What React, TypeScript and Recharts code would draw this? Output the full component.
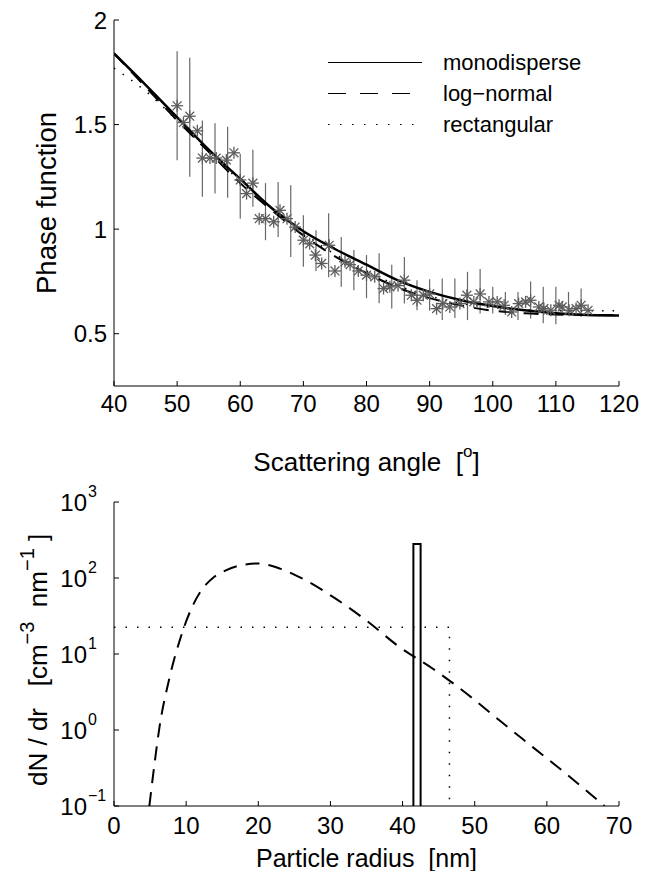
import React from "react";
import {
  ComposedChart,
  Line,
  Scatter,
  XAxis,
  YAxis,
  ErrorBar,
  Legend,
  Label,
} from "recharts";

const FONT = "'Liberation Sans', Arial, Helvetica, sans-serif";
const GREY = "#5c5c5c";

// ---- top panel: phase function vs scattering angle ----
const angleTicks = [40, 50, 60, 70, 80, 90, 100, 110, 120];
const phaseTicks = [0.5, 1, 1.5, 2];

const curveAngles = [40, 45, 50, 55, 60, 65, 70, 75, 80, 85, 90, 95, 100, 105, 110, 115, 120];
const monoPhase = [1.84, 1.69, 1.535, 1.38, 1.24, 1.1, 0.99, 0.905, 0.83, 0.755, 0.7, 0.66, 0.632, 0.612, 0.598, 0.59, 0.587];
const logNormalPhase = [1.84, 1.68, 1.52, 1.37, 1.22, 1.09, 0.97, 0.87, 0.79, 0.72, 0.67, 0.635, 0.61, 0.598, 0.592, 0.59, 0.59];
const rectPhase = [1.77, 1.66, 1.52, 1.37, 1.23, 1.1, 0.98, 0.88, 0.8, 0.73, 0.68, 0.645, 0.625, 0.615, 0.61, 0.61, 0.61];

const measAngles = [
  50, 51, 52, 53.2, 54, 55.2, 56.2, 57.8, 59, 60, 61, 62, 63, 64, 65.3, 66.3, 67.4, 68.7, 70, 71,
  71.9, 72.9, 74.1, 75, 76.6, 77.4, 78.7, 80, 81.3, 82.7, 83.7, 85, 86, 87.1, 88, 89, 90, 91.1, 92.1, 93.2,
  94.8, 95.9, 97, 98, 99.4, 100.7, 101.8, 103, 104.1, 105.2, 106, 107.3, 108.1, 109.2, 110.5, 111, 112.1, 113.2, 114, 115.1,
];
const measPhase = [
  1.59, 1.51, 1.54, 1.47, 1.34, 1.34, 1.34, 1.33, 1.365, 1.235, 1.17, 1.22, 1.05, 1.05, 1.035, 1.09, 1.05, 1.01, 0.947, 0.93,
  0.876, 0.836, 0.923, 0.8, 0.844, 0.83, 0.8, 0.78, 0.772, 0.716, 0.724, 0.73, 0.756, 0.684, 0.66, 0.684, 0.69, 0.62, 0.644, 0.628,
  0.644, 0.684, 0.652, 0.69, 0.652, 0.652, 0.636, 0.604, 0.644, 0.652, 0.66, 0.628, 0.62, 0.612, 0.636, 0.628, 0.612, 0.62, 0.636, 0.612,
];

const barAngles = [50, 52, 54, 56, 58, 60, 62, 64, 66, 68, 70, 72, 74, 76, 78, 80, 82, 84, 86, 88, 90, 92, 94, 96, 98, 100, 102, 104, 106, 108, 110, 112, 114];
const barLow = [1.33, 1.25, 1.155, 1.17, 1.15, 1.05, 1.107, 0.947, 0.963, 0.867, 0.82, 0.8, 0.77, 0.724, 0.708, 0.67, 0.646, 0.62, 0.644, 0.612, 0.61, 0.565, 0.575, 0.565, 0.597, 0.597, 0.59, 0.565, 0.573, 0.55, 0.545, 0.59, 0.58];
const barHigh = [1.85, 1.82, 1.52, 1.506, 1.49, 1.36, 1.38, 1.22, 1.226, 1.21, 1.067, 0.995, 1.076, 0.963, 0.9, 0.876, 0.885, 0.83, 0.867, 0.756, 0.76, 0.764, 0.764, 0.796, 0.81, 0.724, 0.7, 0.7, 0.75, 0.724, 0.724, 0.7, 0.716];

// ---- bottom panel: size distributions ----
const radiusTicks = [0, 10, 20, 30, 40, 50, 60, 70];
const densityTicks = [0.1, 1, 10, 100, 1000];
const densityExps = ["\u22121", "0", "1", "2", "3"];

const lnRadius = [4.9, 5.6, 6.3, 7.7, 9.1, 10.2, 11, 11.85, 12.8, 13.7, 15.5, 17.4, 19.9, 23, 25.7, 30.4, 35, 39.6, 44.2, 48.9, 53.5, 58, 63, 68];
const lnDensity = [0.1, 0.35, 1.08, 4.9, 15, 30, 45, 63, 83, 100, 126, 146, 155, 133, 103, 56, 27.5, 12.3, 6.4, 3.0, 1.32, 0.6, 0.25, 0.1];

const monoRadius = [41.5, 41.5, 42.5, 42.5];
const monoDensity = [0.1, 280, 280, 0.1];

const rectRadius = [0, 46.5, 46.5];
const rectDensity = [22.5, 22.5, 0.1];

const zip = (xs: number[], ys: number[]) => xs.map((x, i) => ({ x, y: ys[i] }));

const phaseSeries = [
  { name: "monodisperse", values: monoPhase, dash: undefined, legendDash: undefined, width: 2.5 },
  { name: "log\u2212normal", values: logNormalPhase, dash: "15 10", legendDash: "18 14", width: 2 },
  { name: "rectangular", values: rectPhase, dash: "1.5 9", legendDash: "1.5 10.5", width: 1.5 },
];

const measData = zip(measAngles, measPhase);
const barData = barAngles.map((x, i) => ({
  x,
  y: (barLow[i] + barHigh[i]) / 2,
  err: (barHigh[i] - barLow[i]) / 2,
}));

const Star = (props: any) => {
  const { cx, cy } = props;
  if (cx == null || cy == null) return <g />;
  const r = 6;
  const d = 4.4;
  return (
    <g stroke={GREY} strokeWidth={1.3}>
      <line x1={cx - r} y1={cy} x2={cx + r} y2={cy} />
      <line x1={cx} y1={cy - r} x2={cx} y2={cy + r} />
      <line x1={cx - d} y1={cy - d} x2={cx + d} y2={cy + d} />
      <line x1={cx - d} y1={cy + d} x2={cx + d} y2={cy - d} />
    </g>
  );
};

const tickStyle = { fontFamily: FONT, fontSize: 24, fill: "#000" };
const axisLine = { stroke: "#000", strokeWidth: 1 };
const blank = () => "";

const PhaseLegend = () => (
  <svg width={651} height={150} style={{ overflow: "visible" }}>
    {phaseSeries.map((s, i) => {
      const y = 62.5 + i * 31;
      return (
        <g key={s.name}>
          <line x1={328} x2={422} y1={y} y2={y} stroke="#000" strokeWidth={1} strokeDasharray={s.legendDash} />
          <text x={443} y={y} dominantBaseline="central" fontFamily={FONT} fontSize={22} fill="#000">
            {s.name}
          </text>
        </g>
      );
    })}
  </svg>
);

const PhasePanel = () => (
  <ComposedChart width={651} height={480} margin={{ top: 20, right: 32, bottom: 14, left: 54 }}>
    <XAxis
      dataKey="x"
      type="number"
      domain={[40, 120]}
      ticks={angleTicks}
      allowDataOverflow
      height={80}
      tickSize={-5}
      tickMargin={14}
      tick={tickStyle}
      axisLine={axisLine}
      tickLine={axisLine}
    >
      <Label
        content={(p: any) => (
          <text
            x={p.viewBox.x + p.viewBox.width / 2}
            y={p.viewBox.y + 76}
            textAnchor="middle"
            dominantBaseline="central"
            fontFamily={FONT}
            fontSize={26}
            fill="#000"
            style={{ whiteSpace: "pre" }}
          >
            {"Scattering angle  ["}
            <tspan dy={-11} fontSize={17}>o</tspan>
            <tspan dy={11}>]</tspan>
          </text>
        )}
      />
    </XAxis>
    <XAxis
      xAxisId="top"
      orientation="top"
      type="number"
      domain={[40, 120]}
      ticks={angleTicks}
      allowDataOverflow
      height={0}
      tickSize={-5}
      tickFormatter={blank}
      axisLine={axisLine}
      tickLine={axisLine}
    />
    <YAxis
      type="number"
      domain={[0.25, 2]}
      ticks={phaseTicks}
      allowDataOverflow
      width={60}
      tickSize={-5}
      tickMargin={12}
      tick={tickStyle}
      axisLine={axisLine}
      tickLine={axisLine}
    >
      <Label
        content={(p: any) => {
          const cx = p.viewBox.x - 8;
          const cy = p.viewBox.y + p.viewBox.height / 2;
          return (
            <text
              x={cx}
              y={cy}
              transform={`rotate(-90 ${cx} ${cy})`}
              textAnchor="middle"
              dominantBaseline="central"
              fontFamily={FONT}
              fontSize={27.5}
              fill="#000"
            >
              Phase function
            </text>
          );
        }}
      />
    </YAxis>
    <YAxis
      yAxisId="right"
      orientation="right"
      type="number"
      domain={[0.25, 2]}
      ticks={phaseTicks}
      allowDataOverflow
      width={0}
      tickSize={-5}
      tickFormatter={blank}
      axisLine={axisLine}
      tickLine={axisLine}
    />
    <Scatter data={barData} dataKey="y" shape={() => <g />} legendType="none" isAnimationActive={false}>
      <ErrorBar dataKey="err" direction="y" width={0} stroke="#686868" strokeWidth={1.2} isAnimationActive={false} />
    </Scatter>
    <Scatter data={measData} dataKey="y" shape={<Star />} legendType="none" isAnimationActive={false} />
    {phaseSeries.map((s) => (
      <Line
        key={s.name}
        name={s.name}
        data={zip(curveAngles, s.values)}
        dataKey="y"
        type="monotone"
        stroke="#000"
        strokeWidth={s.width}
        strokeDasharray={s.dash}
        dot={false}
        activeDot={false}
        isAnimationActive={false}
      />
    ))}
    <Legend
      layout="vertical"
      align="center"
      verticalAlign="middle"
      wrapperStyle={{ left: 0, top: 0, width: 651, height: 150, pointerEvents: "none" }}
      content={() => <PhaseLegend />}
    />
  </ComposedChart>
);

const PowTick = (props: any) => {
  const { x, y, payload } = props;
  const i = densityTicks.indexOf(payload.value);
  return (
    <g>
      <text x={x} y={y} textAnchor="end" dominantBaseline="central" fontFamily={FONT} fontSize={24} fill="#000">
        10
      </text>
      <text x={x + 1} y={y - 11} textAnchor="start" dominantBaseline="central" fontFamily={FONT} fontSize={16} fill="#000">
        {densityExps[i]}
      </text>
    </g>
  );
};

const DistributionPanel = () => (
  <ComposedChart width={651} height={391} margin={{ top: 22, right: 32, bottom: 5, left: 54 }}>
    <XAxis
      dataKey="x"
      type="number"
      domain={[0, 70]}
      ticks={radiusTicks}
      allowDataOverflow
      height={60}
      tickSize={-5}
      tickMargin={16}
      tick={tickStyle}
      axisLine={axisLine}
      tickLine={axisLine}
    >
      <Label
        content={(p: any) => (
          <text
            x={p.viewBox.x + p.viewBox.width / 2}
            y={p.viewBox.y + 52}
            textAnchor="middle"
            dominantBaseline="central"
            fontFamily={FONT}
            fontSize={25}
            fill="#000"
            style={{ whiteSpace: "pre" }}
          >
            {"Particle radius  [nm]"}
          </text>
        )}
      />
    </XAxis>
    <XAxis
      xAxisId="top"
      orientation="top"
      type="number"
      domain={[0, 70]}
      ticks={radiusTicks}
      allowDataOverflow
      height={0}
      tickSize={-5}
      tickFormatter={blank}
      axisLine={axisLine}
      tickLine={axisLine}
    />
    <YAxis
      type="number"
      scale="log"
      domain={[0.1, 1000]}
      ticks={densityTicks}
      allowDataOverflow
      width={60}
      tickSize={-5}
      tickMargin={32}
      tick={<PowTick />}
      axisLine={axisLine}
      tickLine={axisLine}
    >
      <Label
        content={(p: any) => {
          const cx = p.viewBox.x - 16;
          const cy = p.viewBox.y + p.viewBox.height - 20;
          return (
            <text
              x={cx}
              y={cy}
              transform={`rotate(-90 ${cx} ${cy})`}
              textAnchor="start"
              dominantBaseline="central"
              fontFamily={FONT}
              fontSize={26}
              fill="#000"
              style={{ whiteSpace: "pre" }}
            >
              {"dN / dr   [cm"}
              <tspan dy={-11} fontSize={20}>{"\u22123"}</tspan>
              <tspan dy={11}>{"  nm"}</tspan>
              <tspan dy={-11} fontSize={20}>{"\u22121"}</tspan>
              <tspan dy={11}>{" ]"}</tspan>
            </text>
          );
        }}
      />
    </YAxis>
    <YAxis
      yAxisId="right"
      orientation="right"
      type="number"
      scale="log"
      domain={[0.1, 1000]}
      ticks={densityTicks}
      allowDataOverflow
      width={0}
      tickSize={-5}
      tickFormatter={blank}
      axisLine={axisLine}
      tickLine={axisLine}
    />
    <Line
      data={zip(rectRadius, rectDensity)}
      dataKey="y"
      type="linear"
      stroke="#000"
      strokeWidth={1.5}
      strokeDasharray="1.5 10"
      dot={false}
      activeDot={false}
      isAnimationActive={false}
    />
    <Line
      data={zip(lnRadius, lnDensity)}
      dataKey="y"
      type="monotone"
      stroke="#000"
      strokeWidth={2}
      strokeDasharray="14 9"
      dot={false}
      activeDot={false}
      isAnimationActive={false}
    />
    <Line
      data={zip(monoRadius, monoDensity)}
      dataKey="y"
      type="linear"
      stroke="#000"
      strokeWidth={2}
      dot={false}
      activeDot={false}
      isAnimationActive={false}
    />
  </ComposedChart>
);

export default function App() {
  return (
    <div style={{ position: "absolute", left: 0, top: 0, width: 651, height: 871, background: "#fff" }}>
      <div style={{ position: "absolute", left: 0, top: 0 }}>
        <PhasePanel />
      </div>
      <div style={{ position: "absolute", left: 0, top: 480 }}>
        <DistributionPanel />
      </div>
    </div>
  );
}
